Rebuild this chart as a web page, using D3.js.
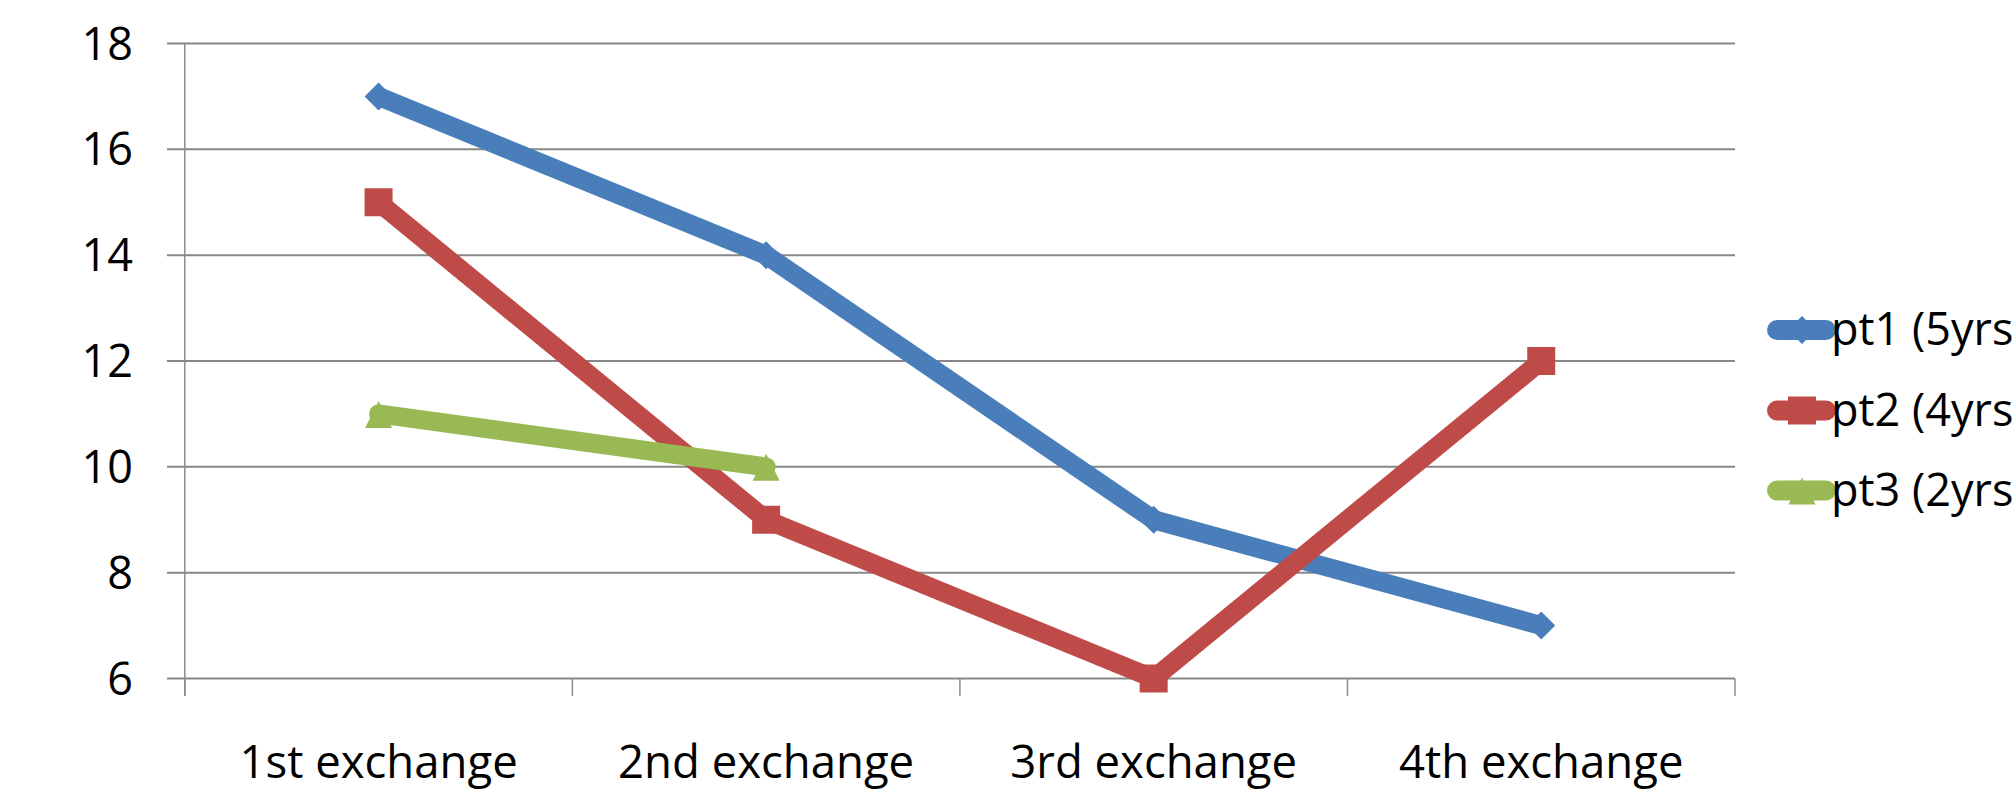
<!DOCTYPE html>
<html>
<head>
<meta charset="utf-8">
<script src="https://cdn.jsdelivr.net/npm/d3@7"></script>
<style>
  html, body { margin: 0; padding: 0; background: #fff; overflow: hidden; }
  text { font-family: "Open Sans", "Noto Sans", sans-serif; fill: #000; }
</style>
</head>
<body>
<div id="chart"></div>
<script>
// Chart data
const categories = ["1st exchange", "2nd exchange", "3rd exchange", "4th exchange"];
const seriesNames = ["pt1 (5yrs)", "pt2 (4yrs)", "pt3 (2yrs)"];
const pt1Values = [17, 14, 9, 7];
const pt2Values = [15, 9, 6, 12];
const pt3Values = [11, 10];
const yTicks = [6, 8, 10, 12, 14, 16, 18];

const colors = ["#4A7EBB", "#BE4B48", "#98B954"];
const markers = ["diamond", "square", "triangle"];
const seriesValues = [pt1Values, pt2Values, pt3Values];

const width = 2012, height = 795;

const svg = d3.select("#chart").append("svg")
  .attr("width", width)
  .attr("height", height);

// Scales
const x = d3.scaleBand()
  .domain(categories)
  .range([184.8, 1735])
  .padding(0);

const y = d3.scaleLinear()
  .domain([6, 18])
  .range([678.5, 43.5]);

const xc = d => x(d) + x.bandwidth() / 2;

// Gridlines
svg.append("g")
  .selectAll("line")
  .data(yTicks)
  .join("line")
  .attr("x1", 167)
  .attr("x2", 1735)
  .attr("y1", d => y(d))
  .attr("y2", d => y(d))
  .attr("stroke", "#878787")
  .attr("stroke-width", 2);

// Y axis line
svg.append("line")
  .attr("x1", 184.8).attr("x2", 184.8)
  .attr("y1", y(18)).attr("y2", 696)
  .attr("stroke", "#8c8c8c")
  .attr("stroke-width", 1.5);

// X axis ticks at band edges
const edges = categories.map(c => x(c)).concat([x.range()[1]]);
svg.append("g")
  .selectAll("line")
  .data(edges)
  .join("line")
  .attr("x1", d => d).attr("x2", d => d)
  .attr("y1", y(6)).attr("y2", 696)
  .attr("stroke", "#8c8c8c")
  .attr("stroke-width", 1.5);

// Y tick labels
svg.append("g")
  .selectAll("text")
  .data(yTicks)
  .join("text")
  .attr("x", 133)
  .attr("y", d => y(d) + 16)
  .attr("text-anchor", "end")
  .attr("font-size", 45)
  .text(d => d);

// X tick labels
svg.append("g")
  .selectAll("text")
  .data(categories)
  .join("text")
  .attr("x", d => xc(d))
  .attr("y", 778)
  .attr("text-anchor", "middle")
  .attr("font-size", 45.5)
  .text(d => d);

// marker shapes
function markerPath(type, cx, cy) {
  if (type === "diamond") {
    return `M${cx},${cy - 14}L${cx + 14},${cy}L${cx},${cy + 14}L${cx - 14},${cy}Z`;
  }
  if (type === "square") {
    return `M${cx - 14},${cy - 14}h28v28h-28Z`;
  }
  return `M${cx},${cy - 13}L${cx + 13.5},${cy + 14}L${cx - 13.5},${cy + 14}Z`;
}

const line = d3.line()
  .x((d, i) => xc(categories[i]))
  .y(d => y(d));

// Series lines and markers
seriesValues.forEach((vals, s) => {
  const g = svg.append("g");
  g.append("path")
    .datum(vals)
    .attr("d", line)
    .attr("fill", "none")
    .attr("stroke", colors[s])
    .attr("stroke-width", 19)
    .attr("stroke-linejoin", "round")
    .attr("stroke-linecap", "round");
  g.selectAll("path.marker")
    .data(vals)
    .join("path")
    .attr("class", "marker")
    .attr("d", (d, i) => markerPath(markers[s], xc(categories[i]), y(d)))
    .attr("fill", colors[s]);
});

// Legend (runs off the right edge, as in the original)
const legendY = [330, 410.5, 490.5];
const legend = svg.append("g");
seriesNames.forEach((name, s) => {
  const ly = legendY[s];
  legend.append("line")
    .attr("x1", 1777).attr("x2", 1826)
    .attr("y1", ly).attr("y2", ly)
    .attr("stroke", colors[s])
    .attr("stroke-width", 20)
    .attr("stroke-linecap", "round");
  legend.append("path")
    .attr("d", markerPath(markers[s], 1802, ly))
    .attr("fill", colors[s]);
  legend.append("text")
    .attr("x", 1831)
    .attr("y", ly + 15)
    .attr("font-size", 45)
    .text(name);
});
</script>
</body>
</html>
